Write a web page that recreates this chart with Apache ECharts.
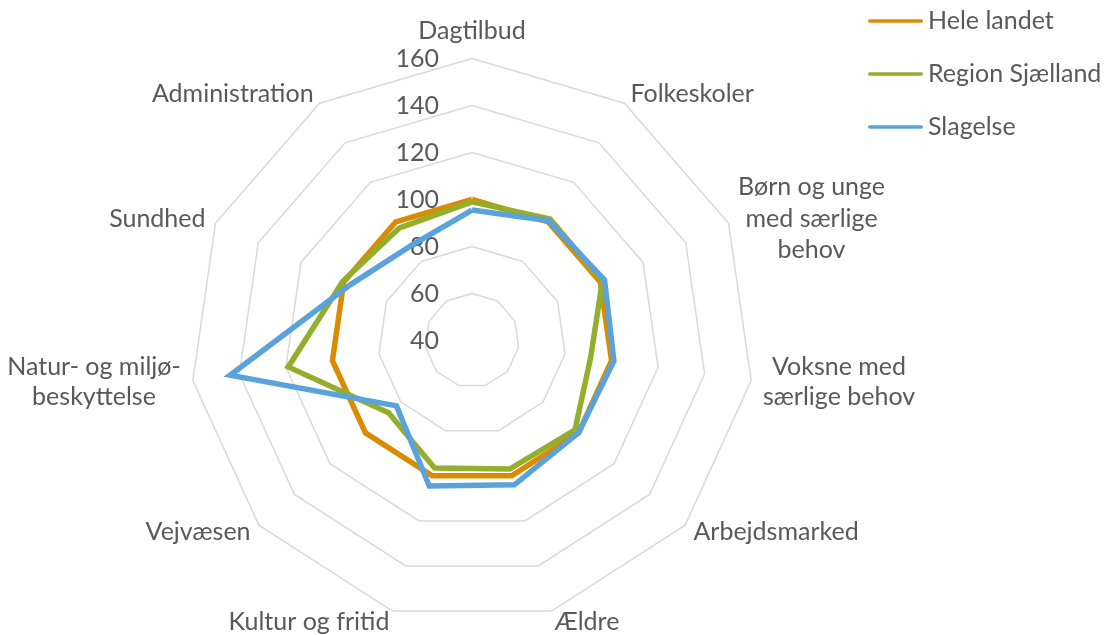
<!DOCTYPE html>
<html>
<head>
<meta charset="utf-8">
<script src="https://cdn.jsdelivr.net/npm/echarts@6/dist/echarts.min.js"></script>
<style>
  html, body { margin: 0; padding: 0; background: #fff; }
  #chart { width: 1105px; height: 635px; }
</style>
</head>
<body>
<div id="chart"></div>
<script>
// Categories in clockwise order starting at the top
const categories = [
  'Dagtilbud',
  'Folkeskoler',
  'Børn og unge\nmed særlige\nbehov',
  'Voksne med\nsærlige behov',
  'Arbejdsmarked',
  'Ældre',
  'Kultur og fritid',
  'Vejvæsen',
  'Natur- og miljø-\nbeskyttelse',
  'Sundhed',
  'Administration'
];
const seriesNames = ['Hele landet', 'Region Sjælland', 'Slagelse'];
const heleLandet     = [100, 100, 100, 100, 100, 100, 100, 100, 100, 100, 100];
const regionSjaelland = [99, 101.5, 101, 91, 98, 97, 96.5, 87, 119, 100.5, 97];
const slagelse       = [95.5, 100.5, 102, 101, 100, 104, 104.5, 82.5, 144, 97, 88];
const axisTicks = [40, 60, 80, 100, 120, 140, 160];

const colors = ['#DA8C00', '#93AE2A', '#5AA2DB'];
const textColor = '#595959';
const fontFamily = 'Lato, "Open Sans", sans-serif';
const fontSize = 25;

// ECharts places radar indicators counter-clockwise; reorder to get clockwise
const order = [0];
for (let i = categories.length - 1; i >= 1; i--) order.push(i);
const reorder = arr => order.map(i => arr[i]);

const richKey = {
  'Børn og unge\nmed særlige\nbehov': 'b',
  'Voksne med\nsærlige behov': 'v',
  'Natur- og miljø-\nbeskyttelse': 'n'
};

const indicators = reorder(categories).map((name, k) => {
  const ind = { name: name, min: axisTicks[0], max: axisTicks[axisTicks.length - 1] };
  if (k === 0) {
    ind.axisLabel = {
      show: true, showMinLabel: true, showMaxLabel: true,
      margin: 33, color: textColor, fontSize: fontSize, fontFamily: fontFamily
    };
  }
  return ind;
});

const chart = echarts.init(document.getElementById('chart'), null, { renderer: 'canvas' });
const richBase = { fontSize: fontSize, fontFamily: fontFamily, color: textColor, align: 'center', lineHeight: 30 };
chart.setOption({
  animation: false,
  backgroundColor: '#ffffff',
  color: colors,
  legend: {
    orient: 'vertical',
    left: 868,
    top: 6,
    padding: 0,
    itemWidth: 55,
    itemHeight: 6,
    itemGap: 23,
    icon: 'path://M3,0 L97,0 A3,3 0 0 1 97,6 L3,6 A3,3 0 0 1 3,0 Z',
    textStyle: { fontSize: fontSize, fontFamily: fontFamily, color: textColor, lineHeight: 30 },
    data: seriesNames
  },
  radar: {
    center: [472, 340.5],
    radius: 282,
    startAngle: 90,
    shape: 'polygon',
    splitNumber: axisTicks.length - 1,
    axisNameGap: 11,
    axisName: {
      color: textColor,
      fontSize: fontSize,
      fontFamily: fontFamily,
      lineHeight: 30,
      formatter: function (name) {
        const key = richKey[name];
        if (!key) return name;
        return name.split('\n').map(l => '{' + key + '|' + l + '}').join('\n');
      },
      rich: {
        b: Object.assign({}, richBase, { width: 146, lineHeight: 31.5 }),
        v: Object.assign({}, richBase, { width: 154 }),
        n: Object.assign({}, richBase, { width: 176 })
      }
    },
    axisLine: { show: false },
    axisTick: { show: false },
    axisLabel: { show: false },
    splitArea: { show: false },
    splitLine: { lineStyle: { color: '#d9d9d9', width: 1.5 } },
    indicator: indicators
  },
  series: [{
    type: 'radar',
    symbol: 'none',
    lineStyle: { width: 5.5, join: 'miter' },
    data: [
      { name: seriesNames[0], value: reorder(heleLandet), lineStyle: { color: colors[0], width: 5.5, join: 'miter' }, itemStyle: { color: colors[0] } },
      { name: seriesNames[1], value: reorder(regionSjaelland), lineStyle: { color: colors[1], width: 5.5, join: 'miter' }, itemStyle: { color: colors[1] } },
      { name: seriesNames[2], value: reorder(slagelse), lineStyle: { color: colors[2], width: 5.5, join: 'miter' }, itemStyle: { color: colors[2] } }
    ]
  }]
});
</script>
</body>
</html>
